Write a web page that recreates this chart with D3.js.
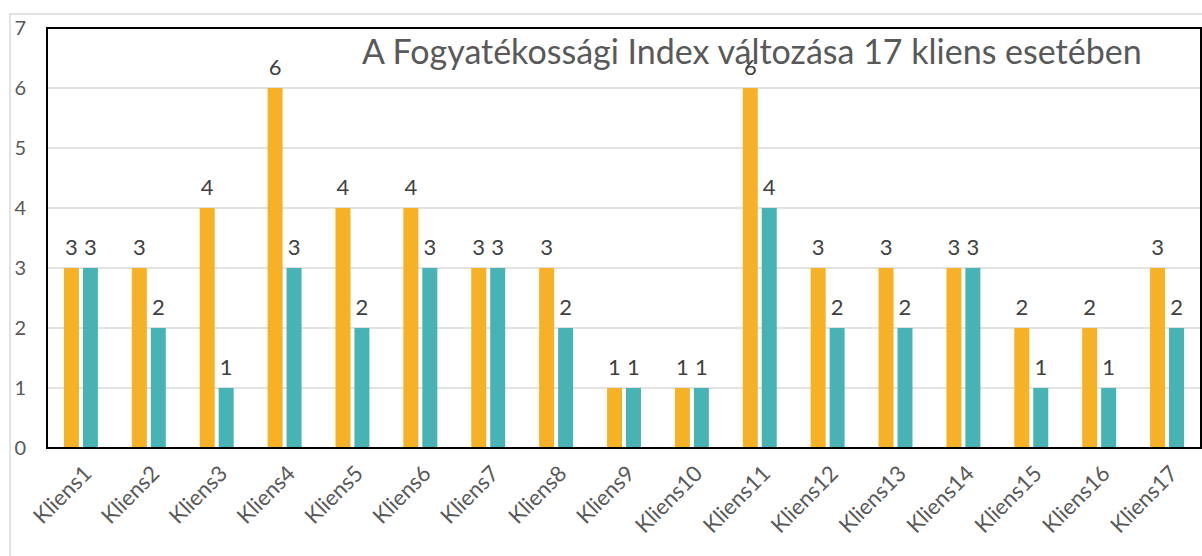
<!DOCTYPE html>
<html>
<head>
<meta charset="utf-8">
<script src="https://cdn.jsdelivr.net/npm/d3@7"></script>
<style>
  body { margin: 0; background: #fff; }
  svg text { font-family: Lato, "Open Sans", sans-serif; }
</style>
</head>
<body>
<div id="chart"></div>
<script>
// data
var categories = ["Kliens1","Kliens2","Kliens3","Kliens4","Kliens5","Kliens6","Kliens7","Kliens8","Kliens9",
  "Kliens10","Kliens11","Kliens12","Kliens13","Kliens14","Kliens15","Kliens16","Kliens17"];
var seriesNames = ["elotte", "utana"];
var before = [3,3,4,6,4,4,3,3,1,1,6,3,3,3,2,2,3];
var after  = [3,2,1,3,2,3,3,2,1,1,4,2,2,3,1,1,2];
var yTicks = [0,1,2,3,4,5,6,7];
var title = "A Fogyatékossági Index változása 17 kliens esetében";

var W = 1202, H = 556;
var M = {t: 28, r: 1, b: 108, l: 47};
var colors = {elotte: "#F6B126", utana: "#47B3B5"};

var svg = d3.select("#chart").append("svg")
  .attr("width", W).attr("height", H);

// outer frame (light)
svg.append("path")
  .attr("d", "M10," + H + "V14H" + W)
  .attr("fill", "none").attr("stroke", "#d9d9d9").attr("stroke-width", 1.5);

var x = d3.scaleBand()
  .domain(categories)
  .range([M.l, W - M.r])
  .paddingInner(0.5)
  .paddingOuter(0.25);

var xs = d3.scaleBand()
  .domain(seriesNames)
  .range([0, x.bandwidth()])
  .paddingInner(0.21);

var y = d3.scaleLinear()
  .domain([0, 7])
  .range([H - M.b, M.t]);

// gridlines
svg.append("g")
  .selectAll("line").data(yTicks.slice(1, -1)).enter().append("line")
  .attr("x1", M.l).attr("x2", W - M.r)
  .attr("y1", function(d) { return y(d); })
  .attr("y2", function(d) { return y(d); })
  .attr("stroke", "#d9d9d9").attr("stroke-width", 1.5);

// y axis labels
var axisY = d3.axisLeft(y).tickValues(yTicks).tickSize(0).tickFormat(d3.format("d"));
var gy = svg.append("g")
  .attr("transform", "translate(26,0)")
  .call(axisY);
gy.select(".domain").remove();
gy.selectAll("text")
  .attr("x", 0).attr("dy", "0.32em")
  .style("font-size", "20px").attr("fill", "#595959")
  .style("font-family", "Lato, sans-serif");

var rows = categories.map(function(c, i) {
  return {cat: c, vals: [{s: "elotte", v: before[i]}, {s: "utana", v: after[i]}]};
});

var groups = svg.append("g").selectAll("g").data(rows).enter().append("g")
  .attr("transform", function(d) { return "translate(" + x(d.cat) + ",0)"; });

groups.selectAll("rect").data(function(d) { return d.vals; }).enter().append("rect")
  .attr("x", function(d) { return xs(d.s); })
  .attr("width", xs.bandwidth())
  .attr("y", function(d) { return y(d.v); })
  .attr("height", function(d) { return y(0) - y(d.v); })
  .attr("fill", function(d) { return colors[d.s]; });

groups.selectAll("text").data(function(d) { return d.vals; }).enter().append("text")
  .attr("x", function(d) { return xs(d.s) + xs.bandwidth() / 2; })
  .attr("y", function(d) { return y(d.v) - 13; })
  .attr("text-anchor", "middle")
  .style("font-size", "22px")
  .attr("fill", "#404040")
  .text(function(d) { return d.v; });

// plot frame
svg.append("rect")
  .attr("x", M.l).attr("y", M.t)
  .attr("width", W - M.r - M.l).attr("height", y(0) - M.t)
  .attr("fill", "none").attr("stroke", "#000").attr("stroke-width", 2);

// x labels
var axisX = d3.axisBottom(x).tickSize(0);
var gx = svg.append("g")
  .attr("transform", "translate(0," + y(0) + ")")
  .call(axisX);
gx.select(".domain").remove();
gx.selectAll("text")
  .attr("y", 0).attr("dy", 0)
  .attr("transform", "translate(12,27) rotate(-45)")
  .style("text-anchor", "end")
  .style("font-size", "22px")
  .style("font-family", "Lato, sans-serif")
  .attr("fill", "#595959");

// title
svg.append("text")
  .attr("x", 362).attr("y", 64)
  .style("font-size", "34px")
  .attr("fill", "#595959")
  .text(title);
</script>
</body>
</html>
